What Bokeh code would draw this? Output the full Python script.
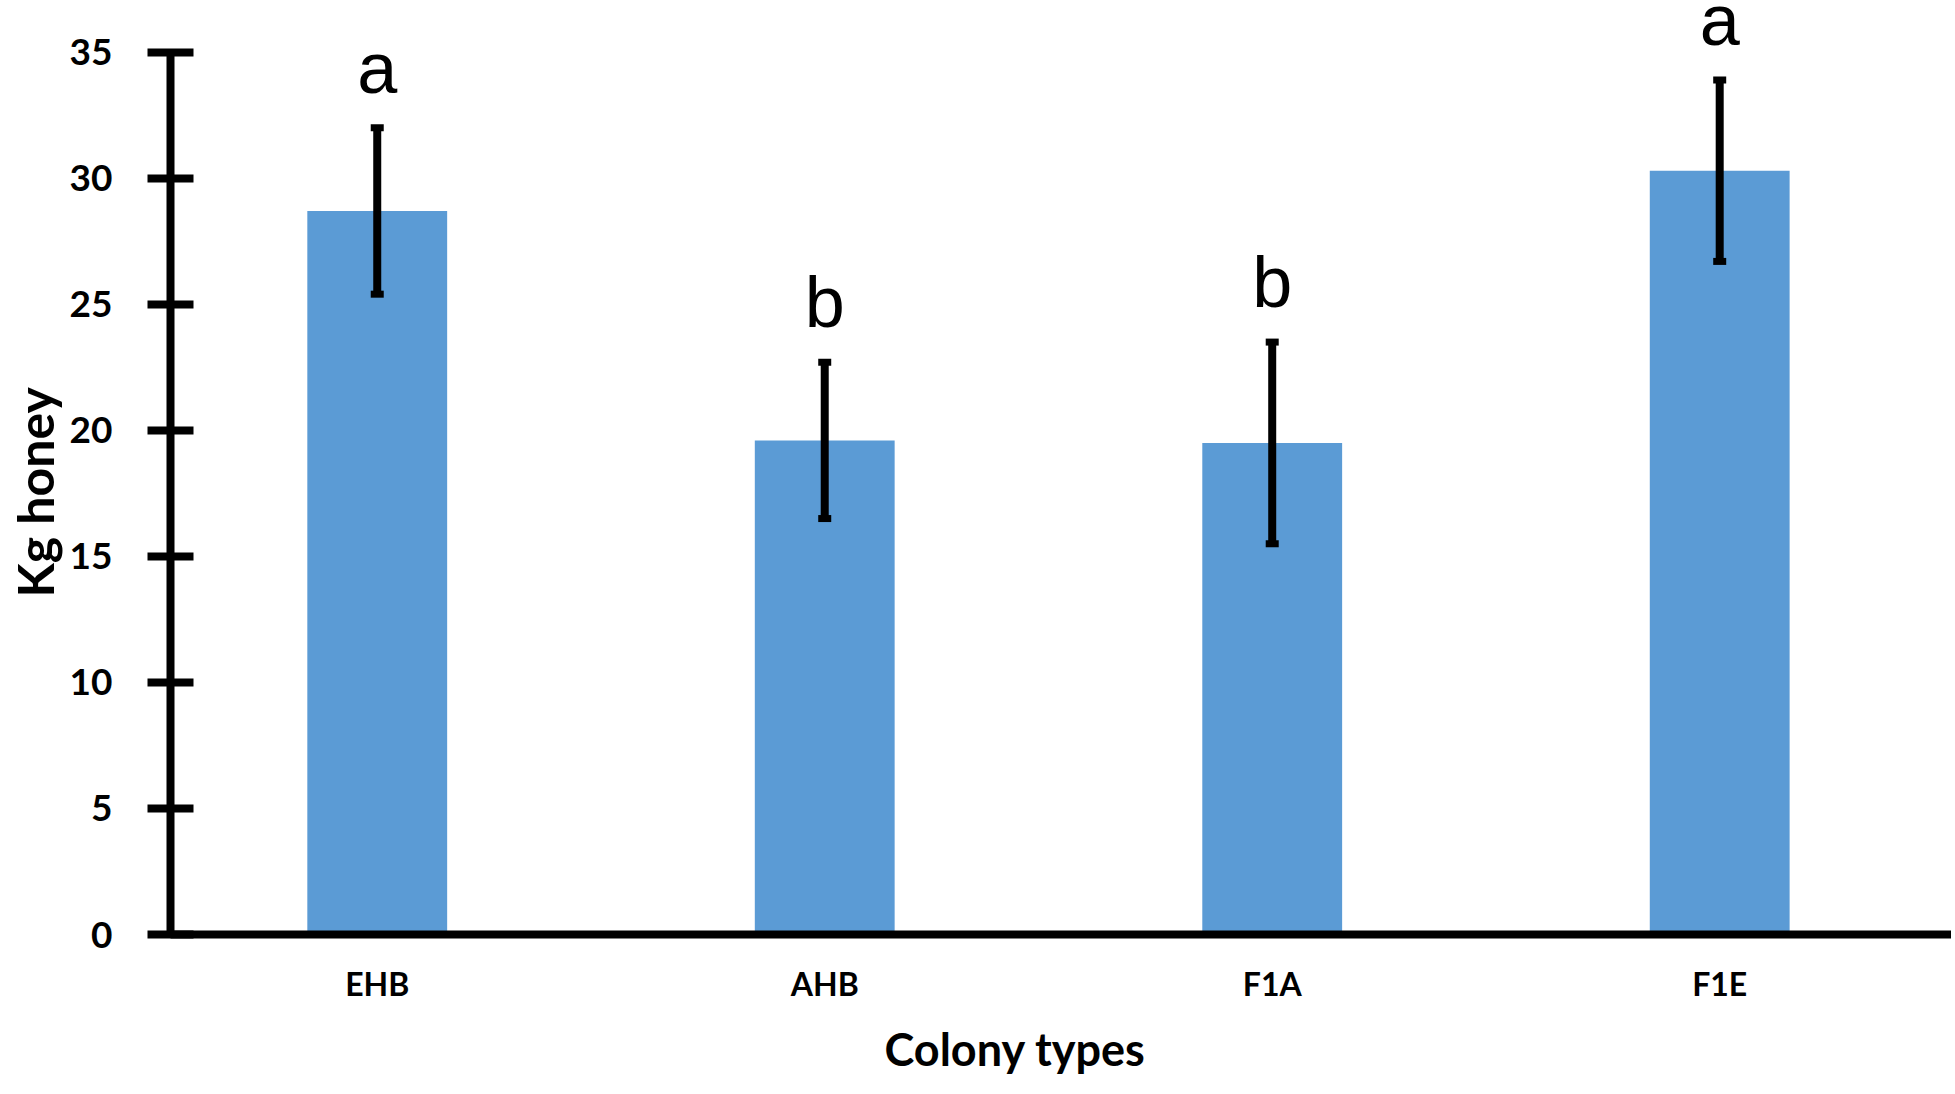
from bokeh.plotting import figure
from bokeh.models import ColumnDataSource, Whisker, TeeHead, Range1d, FixedTicker, Title
from bokeh.core.properties import value
from bokeh.embed import file_html
from bokeh.resources import INLINE

# ---- data ----
categories = ["EHB", "AHB", "F1A", "F1E"]
means = [28.7, 19.6, 19.5, 30.3]
errors = [3.3, 3.1, 4.0, 3.6]
letters = ["a", "b", "b", "a"]
y_ticks = [0, 5, 10, 15, 20, 25, 30, 35]

# ---- layout constants ----
W, H = 1951, 1090
LEFT, BOTTOM = 168, 151
X0, X1 = -0.462, 3.518
Y0, Y1 = 0, 37.05

x_idx = list(range(len(categories)))
src = ColumnDataSource(dict(
    x=x_idx,
    top=means,
    upper=[m + e for m, e in zip(means, errors)],
    lower=[m - e for m, e in zip(means, errors)],
    letter=letters,
))

p = figure(width=W, height=H, x_range=Range1d(X0, X1), y_range=Range1d(Y0, Y1),
           output_backend="svg", toolbar_location=None,
           min_border_left=LEFT, min_border_right=0, min_border_top=0,
           min_border_bottom=BOTTOM)
p.outline_line_color = None
p.xgrid.visible = False
p.ygrid.visible = False
p.background_fill_color = "white"
p.border_fill_color = "white"

p.vbar(x="x", top="top", width=0.3125, bottom=0, source=src,
       fill_color="#5B9BD5", line_color=None)

wk = Whisker(source=src, base="x", upper="upper", lower="lower",
             line_color="black", line_width=8, level="annotation",
             upper_head=TeeHead(size=13, line_width=7, line_color="black"),
             lower_head=TeeHead(size=13, line_width=7, line_color="black"))
p.add_layout(wk)

p.text(x="x", y="upper", text="letter", source=src, text_align="center",
       text_baseline="alphabetic", y_offset=-60,
       text_font=value("Liberation Sans"), text_font_size="72px",
       text_color="black")

# x axis
xa = p.xaxis[0]
xa.ticker = FixedTicker(ticks=x_idx)
xa.major_label_overrides = {i: c for i, c in zip(x_idx, categories)}
xa.major_tick_line_color = None
xa.minor_tick_line_color = None
xa.axis_line_width = 8
xa.axis_line_color = "black"
xa.major_label_text_font = "Lato"
xa.major_label_text_font_style = "bold"
xa.major_label_text_font_size = "32px"
xa.major_label_text_color = "black"
xa.major_label_standoff = 23

# y axis
ya = p.yaxis[0]
ya.ticker = FixedTicker(ticks=y_ticks)
ya.bounds = (0, 35)
ya.axis_line_width = 8
ya.axis_line_color = "black"
ya.major_tick_line_width = 8
ya.major_tick_line_color = "black"
ya.major_tick_in = 23
ya.major_tick_out = 23
ya.minor_tick_line_color = None
ya.major_label_text_font = "Lato"
ya.major_label_text_font_style = "bold"
ya.major_label_text_font_size = "37px"
ya.major_label_text_color = "black"
ya.major_label_standoff = 35

# axis titles
p.add_layout(Title(text="Kg honey", align="left", offset=337, standoff=4,
                   text_font="Lato", text_font_style="bold",
                   text_font_size="50px", text_color="black"), "left")
p.add_layout(Title(text="Colony types", align="left", offset=714, standoff=29,
                   text_font="Lato", text_font_style="bold",
                   text_font_size="45px", text_color="black"), "below")

open("out.html", "w").write(file_html(p, INLINE))
